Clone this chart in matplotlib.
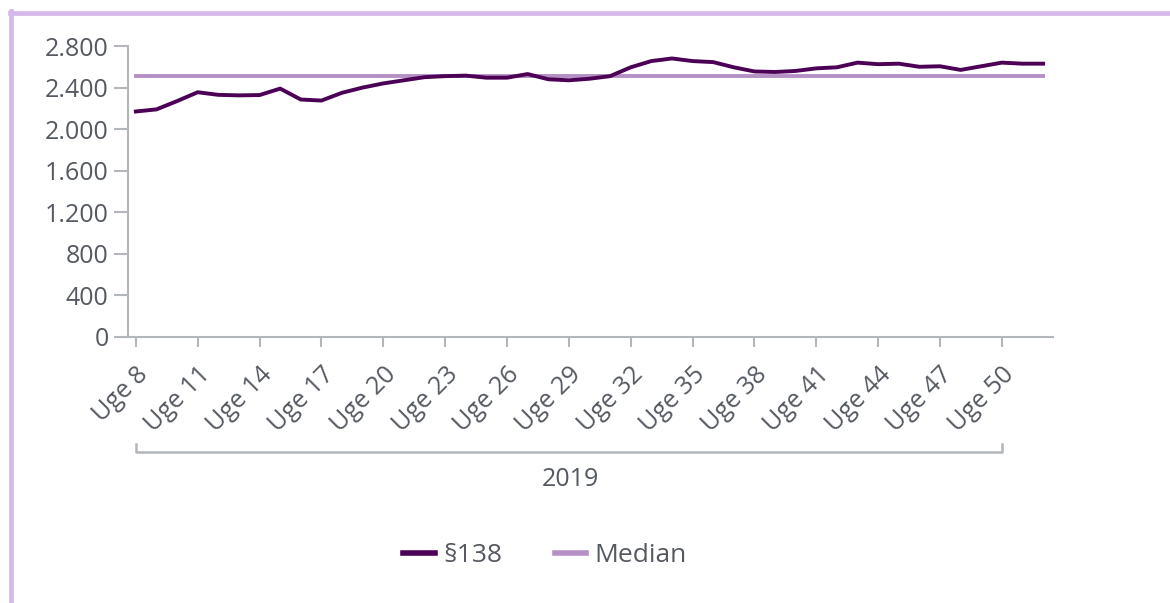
import numpy as np
import matplotlib
matplotlib.use("Agg")
import matplotlib.pyplot as plt
from matplotlib.lines import Line2D
import matplotlib.transforms as mtransforms

plt.rcParams['font.family'] = ['Open Sans', 'DejaVu Sans']

# data
weeks = list(range(8, 53))
values = [2170, 2190, 2270, 2355, 2330, 2325, 2328, 2390, 2285, 2275,
          2350, 2400, 2440, 2470, 2500, 2510, 2515, 2495, 2495, 2530,
          2480, 2470, 2485, 2510, 2595, 2655, 2680, 2655, 2645, 2595,
          2555, 2550, 2560, 2585, 2595, 2640, 2625, 2630, 2600, 2605,
          2570, 2605, 2640, 2630, 2630]
median = 2512
tick_weeks = list(range(8, 51, 3))
tick_labels = ["Uge %d" % w for w in tick_weeks]
year_label = "2019"

dark = "#4b0055"
light = "#b490c4"
axis_col = "#b3b7bb"
text_col = "#555a62"

fig = plt.figure(figsize=(11.7, 6.03), dpi=100)
ax = fig.add_axes([128 / 1170, 1 - 337 / 603, (1053 - 128) / 1170, (337 - 46) / 603])

ax.plot(weeks, values, color=dark, lw=2.8, solid_joinstyle='round', label="§138", zorder=3)
ax.plot([weeks[0], weeks[-1]], [median, median], color=light, lw=2.8, label="Median", zorder=2)

ax.set_xlim(7.62, 52.48)
ax.set_ylim(0, 2800)
ax.set_yticks(range(0, 2801, 400))
ax.set_yticklabels([f"{v:,}".replace(",", ".") for v in range(0, 2801, 400)])
ax.set_xticks(tick_weeks)
ax.set_xticklabels(tick_labels, rotation=45, ha='right', rotation_mode='anchor')

for s in ['top', 'right']:
    ax.spines[s].set_visible(False)
for s in ['left', 'bottom']:
    ax.spines[s].set_color(axis_col)
    ax.spines[s].set_linewidth(1.5)
ax.tick_params(axis='y', colors=axis_col, labelcolor=text_col, labelsize=18,
               length=10, width=1.5, pad=4)
ax.tick_params(axis='x', colors=axis_col, labelcolor=text_col, labelsize=18,
               length=7, width=1.5, pad=11)

# year bracket under the tick labels
trans = mtransforms.blended_transform_factory(ax.transData, fig.transFigure)
y_low = 1 - 452 / 603
y_high = 1 - 444 / 603
ax.plot([tick_weeks[0], tick_weeks[0], tick_weeks[-1], tick_weeks[-1]],
        [y_high, y_low, y_low, y_high], transform=trans, color=axis_col,
        lw=1.8, clip_on=False)
fig.text(570 / 1170, 1 - 479 / 603, year_label, ha='center', va='center',
         fontsize=18, color=text_col)

leg = ax.legend(loc='center', bbox_to_anchor=(545 / 1170, 1 - 556 / 603),
                bbox_transform=fig.transFigure, ncol=2, frameon=False,
                fontsize=19, handlelength=1.2, handletextpad=0.3, columnspacing=2.0)
for h in leg.get_lines():
    h.set_linewidth(4)
for t in leg.get_texts():
    t.set_color(text_col)

# light purple frame around the chart
frame_col = "#d6b8ea"
fig.add_artist(Line2D([10 / 1170, 1], [1 - 12.5 / 603] * 2, color=frame_col, lw=3.4,
                      transform=fig.transFigure))
fig.add_artist(Line2D([10.5 / 1170] * 2, [0, 1 - 11 / 603], color=frame_col, lw=3.4,
                      transform=fig.transFigure))

fig.savefig("out.png", dpi=100)
